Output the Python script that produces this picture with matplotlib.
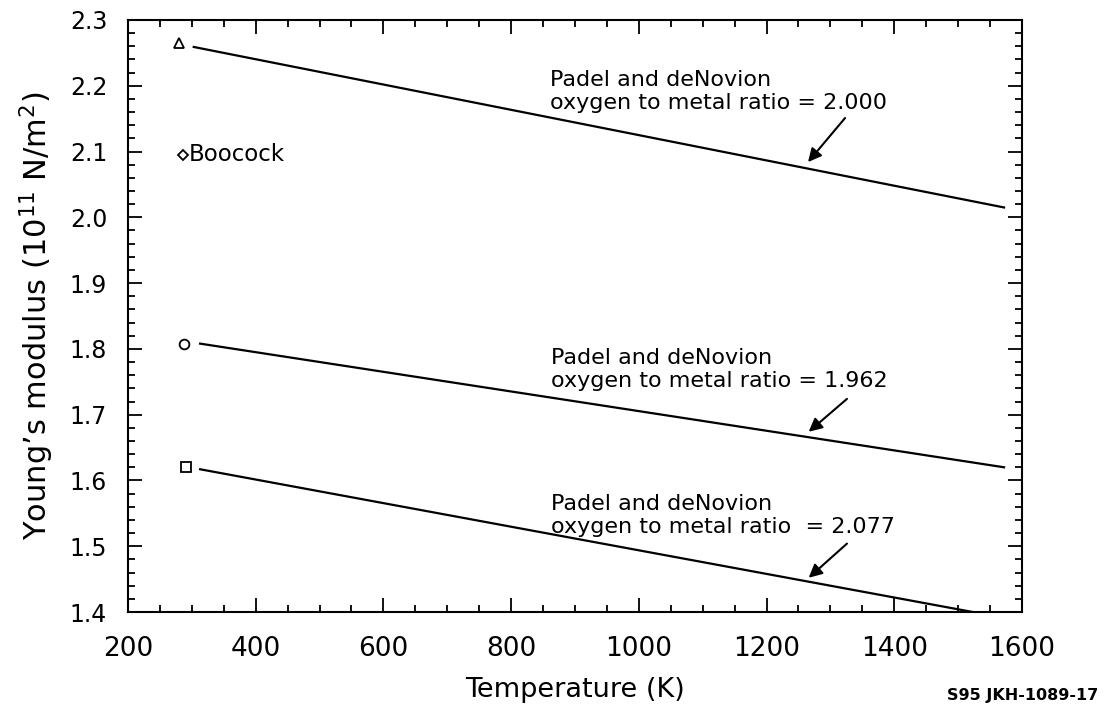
import matplotlib
matplotlib.use("Agg")
import matplotlib.pyplot as plt
from matplotlib.ticker import MultipleLocator

# Padel and deNovion fits, K vs 10^11 N/m^2
line_200_T = [303, 1572]
line_200_E = [2.259, 2.015]
line_1962_T = [313, 1572]
line_1962_E = [1.808, 1.620]
line_2077_T = [313, 1523]
line_2077_E = [1.617, 1.400]

# room-temperature points
pt_T = [280, 288, 291]
pt_E = [2.265, 1.808, 1.621]
pt_markers = ["^", "o", "s"]
boocock_T = 286
boocock_E = 2.095

labels = [
    "Padel and deNovion\noxygen to metal ratio = 2.000",
    "Padel and deNovion\noxygen to metal ratio = 1.962",
    "Padel and deNovion\noxygen to metal ratio  = 2.077",
]
label_xy = [(861, 2.224), (862, 1.802), (862, 1.579)]
arrow_tail = [(1323, 2.151), (1326, 1.724), (1326, 1.504)]
arrow_head = [(1265, 2.084), (1266, 1.674), (1266, 1.452)]

plt.rcParams["font.family"] = ["DejaVu Sans"]

fig = plt.figure(figsize=(11.09, 7.09), dpi=100)
ax = fig.add_axes([0.1154, 0.1368, 0.8061, 0.835])

ax.plot(line_200_T, line_200_E, color="black", lw=1.6)
ax.plot(line_1962_T, line_1962_E, color="black", lw=1.6)
ax.plot(line_2077_T, line_2077_E, color="black", lw=1.6)

for t, e, m in zip(pt_T, pt_E, pt_markers):
    ax.plot(t, e, marker=m, ms=7, mfc="white", mec="black", mew=1.3, ls="none")
ax.plot(boocock_T, boocock_E, marker="D", ms=5, mfc="white", mec="black", mew=1.3)
ax.text(boocock_T + 9, boocock_E, "Boocock", fontsize=16.5, va="center", ha="left")

for txt, (tx, ty), tail, head in zip(labels, label_xy, arrow_tail, arrow_head):
    ax.text(tx, ty, txt, fontsize=16, va="top", ha="left", linespacing=1.2)
    ax.annotate("", xy=head, xytext=tail,
                arrowprops=dict(arrowstyle="-|>", color="black", lw=1.5,
                                mutation_scale=20, shrinkA=0, shrinkB=0))

ax.set_xlim(200, 1600)
ax.set_ylim(1.4, 2.3)
ax.xaxis.set_major_locator(MultipleLocator(200))
ax.xaxis.set_minor_locator(MultipleLocator(50))
ax.yaxis.set_minor_locator(MultipleLocator(0.02))
ax.set_yticks([1.4 + 0.1 * i for i in range(10)])
ax.set_yticklabels([f"{1.4 + 0.1 * i:.1f}" for i in range(10)])

ax.tick_params(which="both", direction="in", top=True, right=True, width=1.3)
ax.tick_params(which="major", length=10)
ax.tick_params(which="minor", length=5)
ax.tick_params(axis="x", labelsize=19, pad=17)
ax.tick_params(axis="y", labelsize=17, pad=15)
for s in ax.spines.values():
    s.set_linewidth(1.5)

ax.set_xlabel("Temperature (K)", fontsize=19.5, labelpad=11)
ax.set_ylabel("Young’s modulus (10$^{11}$ N/m$^2$)", fontsize=22, labelpad=10)

fig.text(0.990, 0.008, "S95 JKH-1089-17", fontsize=11.5, fontweight="bold",
         ha="right", va="bottom")

fig.savefig("out.png", dpi=100)
